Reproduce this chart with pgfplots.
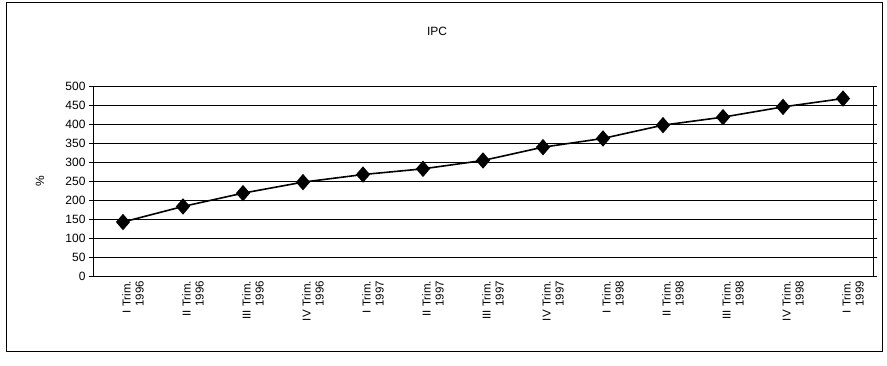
\documentclass[border=0pt]{standalone}
\usepackage{pgfplots}
\pgfplotsset{compat=1.18}
\usepackage{fontspec}
\setmainfont{Liberation Sans}
\begin{document}
\begin{tikzpicture}[x=1pt,y=1pt]
\path[use as bounding box] (0,0) rectangle (887,366);
\draw[line width=1pt] (6,14) rectangle (882,363);
\node[font=\fontsize{12}{14}\selectfont] at (437,335) {IPC};
\coordinate (A) at (93,90);
\begin{axis}[
  at={(A)}, anchor=south west,
  scale only axis, width=780pt, height=190pt,
  xmin=-0.5, xmax=12.5, ymin=0, ymax=500,
  ytick={0,50,...,500},
  ymajorgrids, grid style={black, line width=0.7pt},
  xtick={0,...,12},
  xticklabels={{I Trim.\\1996},{II Trim.\\1996},{III Trim.\\1996},{IV Trim.\\1996},{I Trim.\\1997},{II Trim.\\1997},{III Trim.\\1997},{IV Trim.\\1997},{I Trim.\\1998},{II Trim.\\1998},{III Trim.\\1998},{IV Trim.\\1998},{I Trim.\\1999}},
  x tick label style={rotate=90, anchor=east, align=right, font=\fontsize{11.5}{13}\selectfont, inner sep=1pt, yshift=-10pt},
  y tick label style={font=\fontsize{12}{13}\selectfont},
  /pgf/number format/assume math mode=true,
  x tick style={draw=none},
  y tick style={black, line width=0.7pt},
  tick align=outside, major tick length=4pt,
  axis line style={black, line width=0.9pt},
  ylabel={\%}, ylabel style={font=\fontsize{12}{13}\selectfont, at={(-0.058,0.5)}},
  axis lines*=box,
  clip=false,
]
\addplot[black, line width=1.6pt, mark=diamond*, mark size=7pt, mark options={fill=black, xscale=1.15}] coordinates {
(0,142) (1,183) (2,218) (3,247) (4,267) (5,282) (6,304) (7,339) (8,362) (9,397) (10,418) (11,445) (12,467)
};
\end{axis}
\end{tikzpicture}
\end{document}
